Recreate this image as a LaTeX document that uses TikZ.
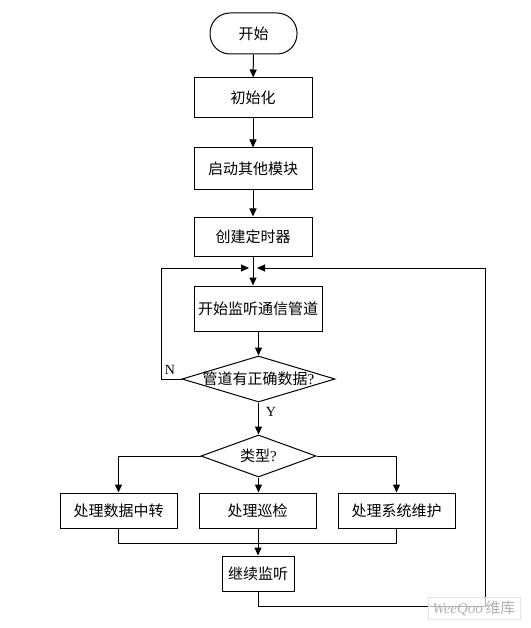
\documentclass[tikz,border=0pt]{standalone}
\usepackage{fontspec}
\setmainfont{Liberation Serif}
\newfontfamily\cjk{Noto Sans CJK SC}
\usetikzlibrary{arrows.meta,shapes.geometric}
\begin{document}
\begin{tikzpicture}[x=1pt,y=-1pt,
  line width=1pt,
  >={Triangle[length=8pt,width=7pt]},
  every node/.style={font=\cjk\fontsize{15}{17}\selectfont},
  proc/.style={draw,rectangle,inner sep=0pt,minimum width=118pt,minimum height=40pt},
  term/.style={draw,rectangle,rounded corners=20pt,inner sep=0pt,minimum width=87pt,minimum height=41pt},
  dec/.style={draw,diamond,inner sep=0pt,shape aspect=3.3},
  lbl/.style={font=\rmfamily\fontsize{14}{16}\selectfont,inner sep=0pt}
]
\useasboundingbox (0,0) rectangle (530,628);
\node[term] (start) at (253.5,33.5) {开始};
\node[proc] (init) at (253,98) {初始化};
\node[proc,minimum height=42pt] (mods) at (253,169) {启动其他模块};
\node[proc,minimum height=39pt] (timer) at (253,236.5) {创建定时器};
\node[proc,minimum width=128pt,minimum height=45pt] (listen) at (258,308.5) {开始监听通信管道};
\node[dec,minimum width=153pt,minimum height=46pt,inner xsep=-6pt] (check) at (258.5,379) {管道有正确数据{\rmfamily ?}};
\node[dec,minimum width=115pt,minimum height=42pt] (type) at (258.5,456) {类型{\rmfamily ?}};
\node[proc,minimum width=117pt,minimum height=35pt] (relay) at (118.5,510.5) {处理数据中转};
\node[proc,minimum width=117pt,minimum height=35pt] (patrol) at (257.5,510.5) {处理巡检};
\node[proc,minimum width=117pt,minimum height=35pt] (maint) at (396.5,510.5) {处理系统维护};
\node[proc,minimum width=72pt,minimum height=35pt] (cont) at (258,573.5) {继续监听};
\coordinate (jl) at (249,268);
\coordinate (jr) at (257,268);
\node[lbl] (nl) at (170,370) {N};
\node[lbl] (yl) at (271,412) {Y};
\draw[->] (start) -- (init);
\draw[->] (init) -- (mods);
\draw[->] (mods) -- (timer);
\draw[->] (timer.south) -- (timer.south |- listen.north);
\draw[->] (listen.south -| check.north) -- (check.north);
\draw[->] (check.south) -- (type.north);
\draw[->] (check.west) -- (161,379) -- (161,268) -- (jl);
\draw[->] (cont.south) -- (258,606) -- (485,606) -- (485,268) -- (jr);
\draw[->] (type.west) -| (relay.north);
\draw[->] (type.south) -- (type.south |- patrol.north);
\draw[->] (type.east) -| (maint.north);
\draw (relay.south) -- (118.5,543) -- (396.5,543) -- (maint.south);
\draw[->] (patrol.south -| cont.north) -- (cont.north);
\node[draw=black!10,fill=white,fill opacity=0.7,text opacity=1,inner sep=2pt,minimum width=92pt,minimum height=22pt] (wm) at (474,608)
  {\textcolor{black!30}{{\rmfamily\itshape\fontsize{15}{16}\selectfont WeeQoo}\,维库}};
\end{tikzpicture}
\end{document}
